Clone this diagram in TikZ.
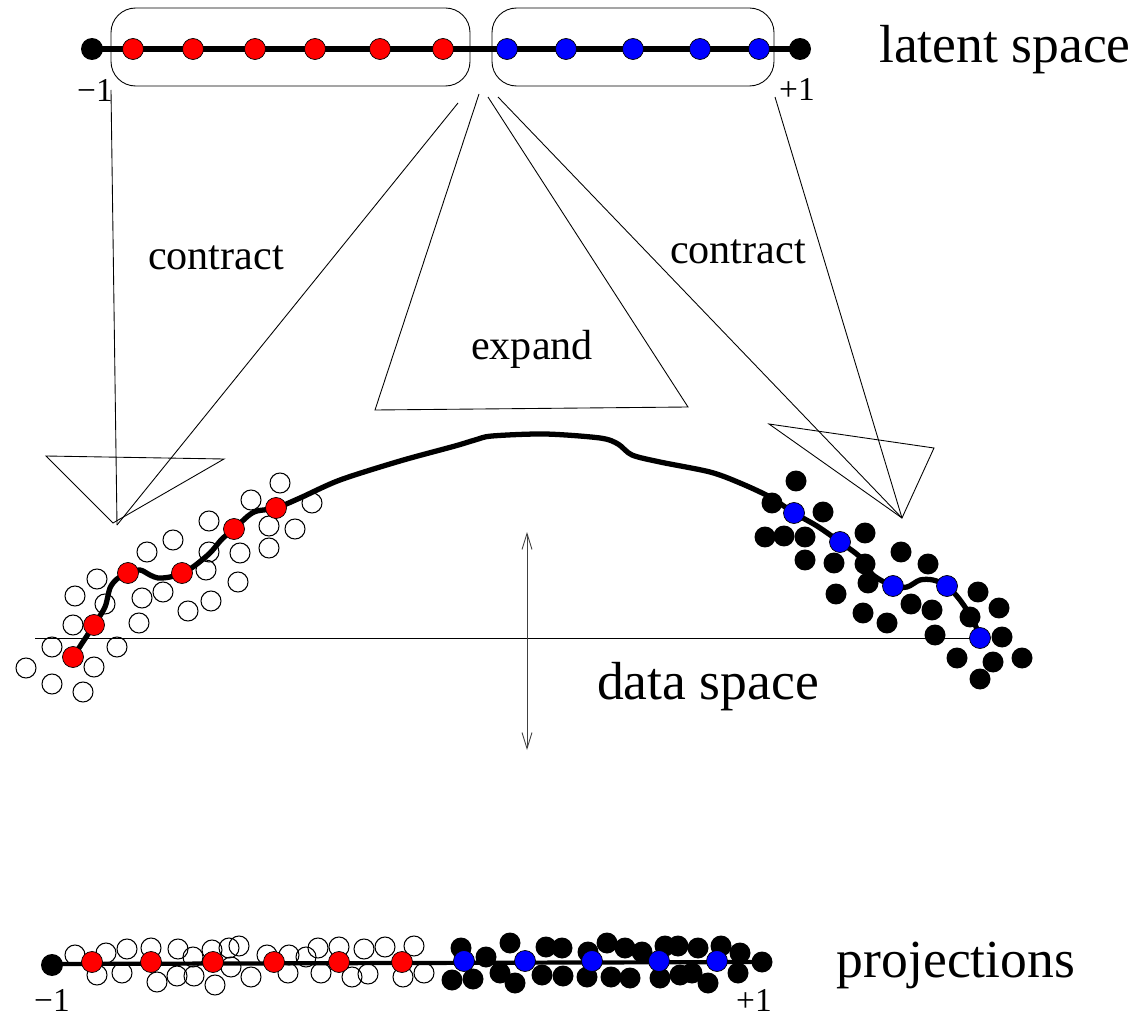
\documentclass[tikz,border=0pt]{standalone}
\usepackage{fontspec}
\setmainfont{Liberation Serif}
\usetikzlibrary{arrows.meta}
\tikzstyle{thinline} = [line width=0.5pt]
\tikzstyle{axisline} = [line width=3pt]
\tikzstyle{curveline} = [line width=3pt,line cap=round,line join=round]
\tikzstyle{reddot} = [fill=red,draw=black,line width=0.4pt]
\tikzstyle{bluedot} = [fill=blue,draw=black,line width=0.4pt]
\tikzstyle{opendot} = [draw=black,line width=0.6pt]
\tikzstyle{blackdot} = [fill=black]
\tikzstyle{bigtext} = [font=\fontsize{30.5}{36}\selectfont,anchor=base]
\tikzstyle{midtext} = [font=\fontsize{24}{29}\selectfont,anchor=base]
\tikzstyle{endtext} = [font=\fontsize{19}{23}\selectfont,anchor=base,inner sep=0pt]

\begin{document}
\begin{tikzpicture}[x=0.02cm,y=-0.02cm]
	\useasboundingbox (0,0) rectangle (1134,1017);
	% latent space
	\draw[thinline,rounded corners=14] (111,8) rectangle (470,86);
	\draw[thinline,rounded corners=14] (492,8) rectangle (774,86);
	\draw[axisline] (92,49) -- (800,49);
	\fill[blackdot] (92,49) circle (0.22cm);
	\fill[blackdot] (800,49) circle (0.22cm);
	\foreach \x in {133,193,255,315,380,443}
	\draw[reddot] (\x,49) circle (0.21cm);
	\foreach \x in {507,566,633,700,759}
	\draw[bluedot] (\x,49) circle (0.21cm);
	\node[endtext] (lminus) at (95,102) {−1};
	\node[endtext] (lplus) at (797,101) {+1};
	\node[bigtext] (latent) at (1005,63) {latent space};
	% contract / expand cones
	\coordinate (cl) at (117,525);
	\coordinate (cr) at (902,518);
	\draw[thinline] (111,90) -- (cl);
	\draw[thinline] (458,103) -- (cl);
	\draw[thinline] (46,456) -- (224,459) -- (113,523) -- cycle;
	\draw[thinline] (479,94) -- (375,410) -- (688,407) -- (488,97);
	\draw[thinline] (498,97) -- (cr);
	\draw[thinline] (775,97) -- (cr);
	\draw[thinline] (769,424) -- (934,448) -- (cr) -- cycle;
	\node[midtext] (contractL) at (216,270) {contract};
	\node[midtext] (expand) at (532,359) {expand};
	\node[midtext] (contractR) at (738,264) {contract};
	% data space
	\draw[thinline] (35,638) -- (978,638);
	\draw[thinline,black!75,{Straight Barb[length=0.32cm,width=0.2cm]}-{Straight Barb[length=0.32cm,width=0.2cm]}] (527,532) -- (527,750);
	\node[bigtext] (data) at (708,699) {data space};
	\foreach \x/\y in {26/668,52/684,83/692,52/647,94/667,117/647,73/625,139/623,75/596,105/604,97/579,142/598,163/592,188/611,211/601,206/570,147/552,173/540,209/552,209/521,240/553,238/582,251/500,269/526,269/548,295/529,280/483,312/503}
	\draw[opendot] (\x,\y) circle (0.2cm);
	\foreach \x/\y in {796/481,772/503,823/512,765/537,784/536,805/537,805/560,834/563,865/533,865/564,868/583,836/594,901/552,928/564,911/604,863/613,887/623,932/610,978/592,970/617,999/608,935/635,1002/637,957/658,993/662,1022/658,980/679}
	\fill[blackdot] (\x,\y) circle (0.21cm);
	\draw[curveline] plot[smooth,tension=0.5] coordinates {(73,657) (94,625) (105,607) (110,588) (117,579) (128,573) (140,570) (150,575) (158,578) (170,577) (182,573) (193,567) (210,553) (222,539) (234,529) (248,516) (257,511) (276,508) (300,498) (340,480) (400,461) (455,446) (475,440) (492,436) (545,434) (600,438) (618,444) (632,455) (660,462) (710,472) (740,483) (770,497) (794,513) (817,526) (840,542) (860,557) (873,575) (893,586) (907,587) (920,580) (933,580) (947,586) (960,600) (973,620) (980,638)};
	\foreach \x/\y in {73/657,94/625,128/573,182/573,234/529,276/508}
	\draw[reddot] (\x,\y) circle (0.21cm);
	\foreach \x/\y in {794/513,840/542,893/586,947/586,980/638}
	\draw[bluedot] (\x,\y) circle (0.21cm);
	% projections
	\foreach \x/\y in {75/955,106/953,97/975,122/973,127/949,151/948,157/982,178/949,177/976,194/976,193/957,212/950,215/985,229/948,239/946,231/967,251/977,267/955,289/955,288/973,306/957,318/948,339/947,321/973,352/977,364/949,368/974,385/947,403/977,414/946,424/973}
	\draw[opendot] (\x,\y) circle (0.2cm);
	\draw[line width=2.4pt] (52,964) -- (762,962);
	\fill[blackdot] (52,965) circle (0.22cm);
	\foreach \x/\y in {461/948,452/980,473/979,486/957,510/943,500/973,515/983,542/975,546/947,562/948,563/976,588/952,587/977,607/943,611/977,625/948,630/978,642/952,665/946,678/946,660/978,680/975,692/973,698/948,721/946,708/983,738/973,740/953,762/962}
	\fill[blackdot] (\x,\y) circle (0.21cm);
	\foreach \x in {92,151,213,274,339,402}
	\draw[reddot] (\x,962) circle (0.21cm);
	\foreach \x in {464,525,592,659,717}
	\draw[bluedot] (\x,961) circle (0.21cm);
	\node[endtext] (bminus) at (52,1011) {−1};
	\node[endtext] (bplus) at (754,1011) {+1};
	\node[bigtext] (proj) at (956,977) {projections};
\end{tikzpicture}
\end{document}
